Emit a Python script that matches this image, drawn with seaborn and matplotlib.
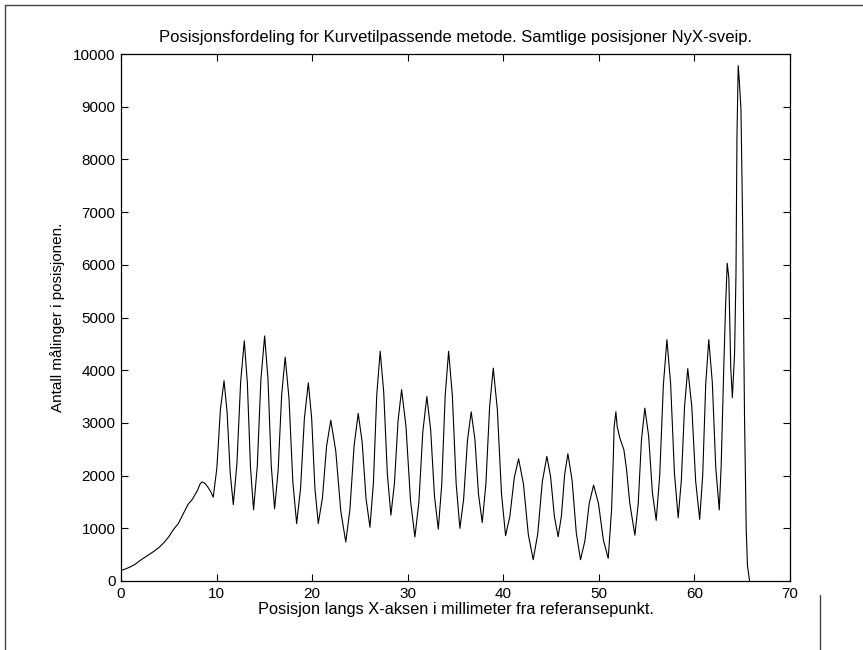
import matplotlib
matplotlib.use("Agg")
import matplotlib.pyplot as plt
from matplotlib.lines import Line2D
import numpy as np
import pandas as pd
import seaborn as sns

ramp_x = [0.0, 0.5, 1.0, 1.5, 2.0, 2.5, 3.0, 3.5, 4.0, 4.5, 5.0, 5.5, 6.0,
          6.5, 7.0, 7.5, 8.0, 8.3, 8.5, 8.8, 9.1, 9.4, 9.65]
ramp_y = [200, 230, 270, 320, 390, 450, 510, 570, 640, 730, 840, 980, 1090,
          1270, 1450, 1560, 1720, 1850, 1880, 1850, 1780, 1690, 1590]

wave1_x = [10.03, 10.40, 10.78, 11.10, 11.43, 11.75, 12.13, 12.52, 12.90,
           13.22, 13.55, 13.87, 14.26, 14.64, 15.03, 15.38, 15.72, 16.07,
           16.44, 16.81, 17.18, 17.58, 17.98, 18.38, 18.79, 19.19, 19.60,
           19.95, 20.29, 20.64, 21.08, 21.51, 21.95, 22.47, 23.00, 23.52,
           23.95, 24.39, 24.82, 25.23, 25.64, 26.05, 26.41, 26.76, 27.12,
           27.49, 27.87, 28.24, 28.61, 28.99, 29.36, 29.82, 30.29, 30.75]
wave1_y = [2140, 3250, 3800, 3210, 2040, 1450, 2230, 3780, 4560,
           3760, 2150, 1350, 2180, 3830, 4650, 3830, 2190, 1370,
           2090, 3530, 4250, 3460, 1880, 1090, 1760, 3090, 3760,
           3090, 1760, 1090, 1580, 2560, 3050, 2470, 1320, 740,
           1350, 2570, 3180, 2640, 1560, 1020, 1860, 3530, 4360,
           3580, 2030, 1250, 1850, 3040, 3630, 2930, 1530, 835]

wave2_x = [31.17, 31.58, 32.00, 32.40, 32.80, 33.20, 33.56, 33.92, 34.28,
           34.67, 35.07, 35.46, 35.85, 36.25, 36.64, 37.03, 37.41, 37.80,
           38.18, 38.57, 38.95, 39.38, 39.81, 40.24, 40.69, 41.15, 41.60,
           42.11, 42.62, 43.13, 43.61, 44.08, 44.56, 44.95, 45.35, 45.74,
           46.08, 46.42, 46.76, 47.20, 47.64, 48.08, 48.54, 48.99, 49.45,
           49.96, 50.47, 50.98]
wave2_y = [1500, 2830, 3500, 2870, 1610, 985, 1830, 3520, 4360,
           3520, 1840, 1000, 1550, 2660, 3210, 2690, 1640, 1110,
           1840, 3310, 4040, 3250, 1660, 860, 1230, 1960, 2320,
           1840, 880, 405, 900, 1880, 2365, 1980, 1220, 840,
           1230, 2020, 2415, 1910, 910, 405, 760, 1470, 1820,
           1470, 780, 430]

wave3_x = [51.33, 51.50, 51.60, 51.78, 51.92, 52.20, 52.62, 52.90, 53.24,
           53.77, 54.12, 54.46, 54.81, 55.21, 55.60, 56.00, 56.37, 56.75,
           57.12, 57.51, 57.91, 58.30, 58.63, 58.97, 59.30, 59.72, 60.13,
           60.55, 60.87, 61.18, 61.50, 61.87, 62.23, 62.60]
wave3_y = [1350, 2260, 2930, 3210, 2930, 2710, 2490, 2110, 1470,
           870, 1470, 2680, 3280, 2750, 1680, 1150, 2010, 3720,
           4580, 3740, 2040, 1200, 1910, 3320, 4030, 3320, 1890,
           1170, 2020, 3730, 4580, 3770, 2160, 1350]

edge_x = [62.80, 63.07, 63.25, 63.43, 63.60, 63.80, 63.97, 64.20, 64.35,
          64.45, 64.58, 64.70, 64.87, 65.05, 65.24, 65.42, 65.55, 65.77]
edge_y = [2200, 4050, 5160, 6030, 5750, 4050, 3480, 4310, 5850,
          8430, 9780, 9480, 8950, 6700, 3130, 970, 290, 0]

x_ticks = [0, 10, 20, 30, 40, 50, 60, 70]
y_ticks = [0, 1000, 2000, 3000, 4000, 5000, 6000, 7000, 8000, 9000, 10000]

title_text = "Posisjonsfordeling for Kurvetilpassende metode. Samtlige posisjoner NyX-sveip."
xlabel_text = "Posisjon langs X-aksen i millimeter fra referansepunkt."
ylabel_text = "Antall målinger i posisjonen."

df = pd.DataFrame({
    "pos": np.concatenate([ramp_x, wave1_x, wave2_x, wave3_x, edge_x]),
    "count": np.concatenate([ramp_y, wave1_y, wave2_y, wave3_y, edge_y]),
})

sns.set_style("ticks")
plt.rcParams["font.family"] = ["Liberation Sans", "DejaVu Sans"]
plt.rcParams["text.color"] = "black"
plt.rcParams["axes.labelcolor"] = "black"
plt.rcParams["xtick.color"] = "black"
plt.rcParams["ytick.color"] = "black"
plt.rcParams["xtick.direction"] = "in"
plt.rcParams["ytick.direction"] = "in"

W, H = 863, 650
fig = plt.figure(figsize=(W / 100, H / 100), dpi=100)
fig.patch.set_facecolor("white")
left, right, top, bottom = 121, 790, 54, 581
ax = fig.add_axes([left / W, 1 - bottom / H, (right - left) / W, (bottom - top) / H])

sns.lineplot(data=df, x="pos", y="count", ax=ax, color="black",
             linewidth=0.8, estimator=None, sort=False)

ax.set_xlim(0, 70)
ax.set_ylim(0, 10000)
ax.set_xticks(x_ticks)
ax.set_yticks(y_ticks)
ax.set_xticklabels([str(t) for t in x_ticks], fontsize=11)
ax.set_yticklabels([str(t) for t in y_ticks], fontsize=11)
ax.tick_params(which="both", direction="in", length=5, width=0.8,
               top=True, right=True, color="black", labelcolor="black", pad=4)
for s in ax.spines.values():
    s.set_visible(True)
    s.set_color("black")
    s.set_linewidth(0.9)

ax.set_title(title_text, fontsize=12, pad=8.5, color="black")
ax.set_xlabel(xlabel_text, fontsize=11.8, labelpad=1, color="black")
ax.set_ylabel(ylabel_text, fontsize=11, labelpad=6, color="black")

# window frame lines
fig.add_artist(Line2D([5 / W, 1], [1 - 5 / H, 1 - 5 / H], color="#444444", lw=1))
fig.add_artist(Line2D([5 / W, 5 / W], [0, 1 - 5 / H], color="#444444", lw=1))
fig.add_artist(Line2D([820 / W, 820 / W], [0, 1 - 595 / H], color="#444444", lw=1))

fig.savefig("out.png", dpi=100)
